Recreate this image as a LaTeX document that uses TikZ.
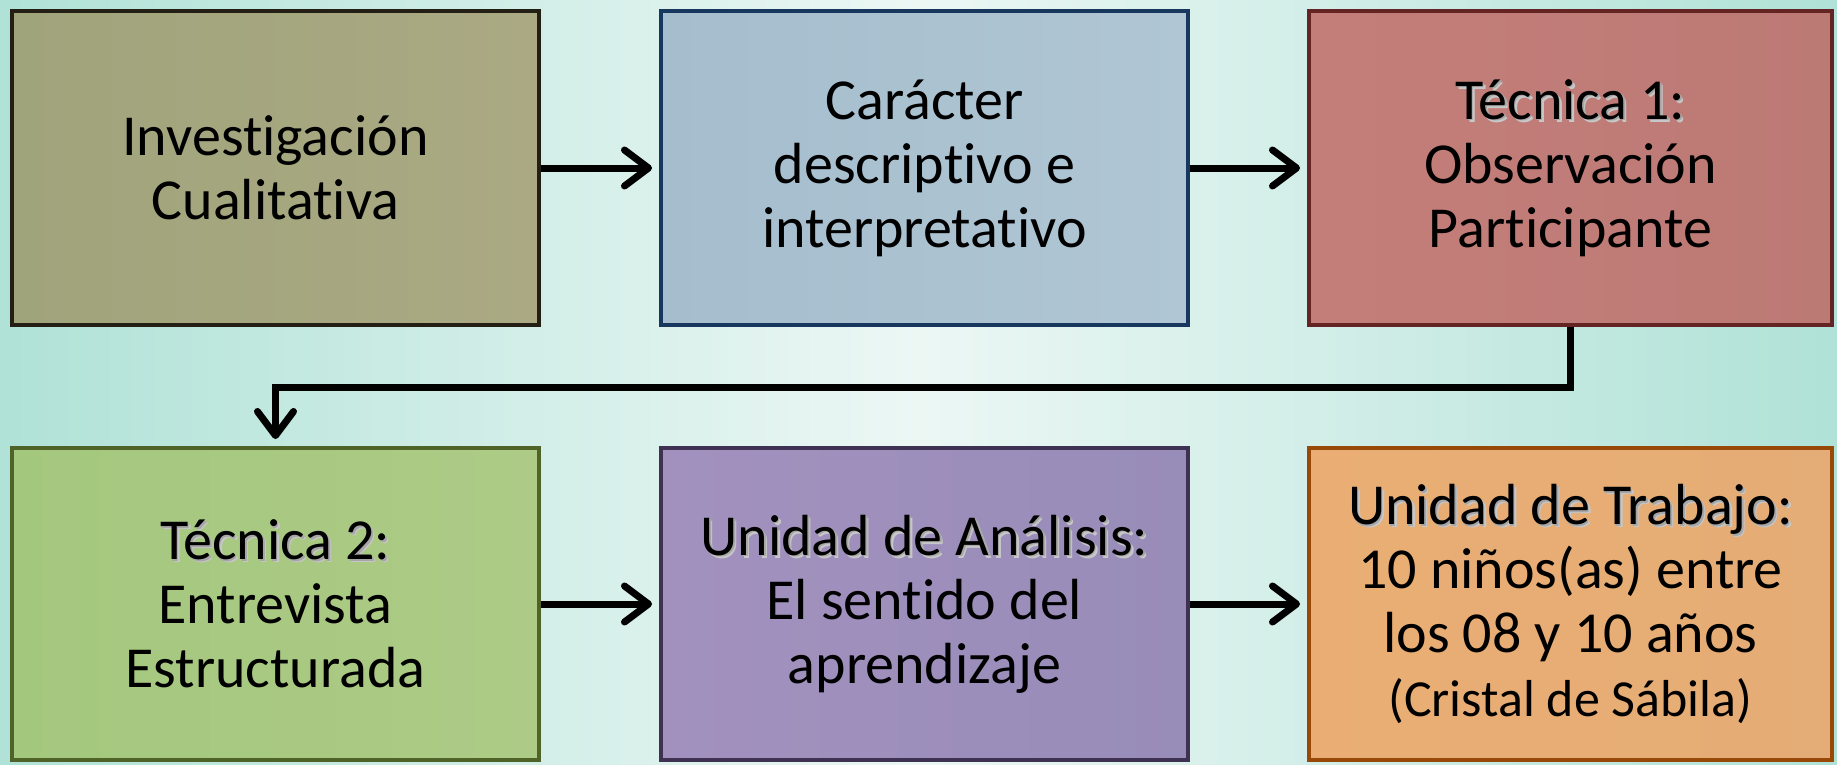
\documentclass[tikz,border=0pt]{standalone}
\usepackage{fontspec}
\setmainfont{Carlito}[Ligatures=NoCommon]
\usetikzlibrary{arrows.meta,calc}
\definecolor{bgA}{RGB}{176,226,215}
\definecolor{bgB}{RGB}{236,247,244}
\definecolor{f1a}{RGB}{160,164,123}\definecolor{f1b}{RGB}{170,169,131}\definecolor{d1}{RGB}{35,31,20}
\definecolor{f2a}{RGB}{165,189,205}\definecolor{f2b}{RGB}{176,198,212}\definecolor{d2}{RGB}{23,55,94}
\definecolor{f3a}{RGB}{196,126,122}\definecolor{f3b}{RGB}{188,122,117}\definecolor{d3}{RGB}{99,36,35}
\definecolor{f4a}{RGB}{164,199,126}\definecolor{f4b}{RGB}{173,203,134}\definecolor{d4}{RGB}{79,98,40}
\definecolor{f5a}{RGB}{162,145,190}\definecolor{f5b}{RGB}{152,140,184}\definecolor{d5}{RGB}{63,49,81}
\definecolor{f6a}{RGB}{234,174,116}\definecolor{f6b}{RGB}{228,172,118}\definecolor{d6}{RGB}{152,72,7}
\newcommand\shd[1]{\leavevmode\rlap{\kern3pt\raisebox{-3pt}{\textcolor{black!22}{#1}}}\rlap{\kern1.5pt\raisebox{-1.5pt}{\textcolor{black!35}{#1}}}#1}
\begin{document}
\begin{tikzpicture}[x=1pt,y=-1pt,
  box/.style={draw, line width=4pt, minimum width=527pt, minimum height=314pt,
    inner sep=0pt, align=center, font=\fontsize{58}{64}\selectfont, text=black},
  arr/.style={line width=7pt, -{Straight Barb[length=24pt,width=36pt,line cap=round,line join=round]},
    shorten >=7pt}]
\shade[left color=bgA, right color=bgA, middle color=bgB] (0,0) rectangle (1837,764);
\node[box, left color=f1a, right color=f1b, draw=d1] (b1) at (275.5,168) {Investigación\\Cualitativa};
\node[box, left color=f2a, right color=f2b, draw=d2] (b2) at (924.5,168) {Carácter\\descriptivo e\\interpretativo};
\node[box, left color=f3a, right color=f3b, draw=d3, minimum width=523pt] (b3) at (1570.5,168) {\shd{Técnica 1:}\\Observación\\Participante};
\node[box, left color=f4a, right color=f4b, draw=d4, minimum height=312pt] (b4) at (275.5,604) {\shd{Técnica 2:}\\Entrevista\\Estructurada};
\node[box, left color=f5a, right color=f5b, draw=d5, minimum height=312pt] (b5) at (924.5,604) {\shd{Unidad de Análisis:}\\El sentido del\\aprendizaje};
\node[box, left color=f6a, right color=f6b, draw=d6, minimum width=523pt, minimum height=312pt] (b6) at (1570.5,604) {\shd{Unidad de Trabajo:}\\10 niños(as) entre\\los 08 y 10 años\\{\fontsize{52}{60}\selectfont (Cristal de Sábila)}};
\draw[arr] (b1.east) -- (b2.west);
\draw[arr] (b2.east) -- (b3.west);
\draw[arr] (b4.east) -- (b5.west);
\draw[arr] (b5.east) -- (b6.west);
\draw[arr, line join=miter] (b3.south) -- ++(0,60) -| (b4.north);
\end{tikzpicture}
\end{document}
